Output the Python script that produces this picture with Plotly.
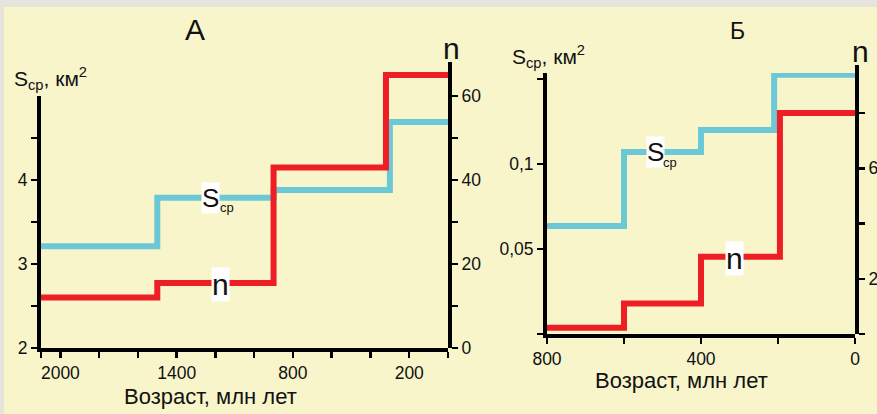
import plotly.graph_objects as go

W, H = 877, 414

# ---------------- data ----------------
# Panel A (2100 ... 0 Ma)
age_a_s = [2100, 1500, 900, 300, 0]
s_a = [3.21, 3.79, 3.88, 4.69, 4.69]
age_a_n = [2100, 1500, 900, 320, 0]
n_a = [12.0, 15.5, 43.0, 65.0, 65.0]

# Panel Б (800 ... 0 Ma)
age_b_s = [800, 600, 400, 210, 0]
s_b = [0.0635, 0.107, 0.120, 0.1525, 0.1525]
age_b_n = [800, 600, 400, 195, 0]
n_b = [2.3, 11.0, 28.0, 80.0, 80.0]

# ticks
xa_tickvals = [2100, 2000, 1800, 1600, 1400, 1200, 1000, 800, 600, 400, 200, 0]
xa_ticktext = [" ", "2000", " ", " ", "1400", " ", " ", "800", " ", " ", "200", " "]
ya_tickvals = [2, 2.5, 3, 3.5, 4, 4.5]
ya_ticktext = ["2", " ", "3", " ", "4", " "]
y2a_tickvals = [0, 10, 20, 30, 40, 50, 60]
y2a_ticktext = ["0", " ", "20", " ", "40", " ", "60"]

xb_tickvals = [800, 600, 400, 200, 0]
xb_ticktext = ["800", " ", "400", " ", "0"]
yb_tickvals = [0, 0.05, 0.1, 0.15]
yb_ticktext = [" ", "0,05", "0,1", " "]
y2b_tickvals = [0, 20, 40, 60, 80]
y2b_ticktext = [" ", "20", " ", "60", " "]

BLUE = "#6cc8d6"
RED = "#ed1f25"
YELLOW = "#f8f5cb"
GREY = "#e7e4de"
FONT = "Liberation Sans, Arial, sans-serif"
INK = "#111111"


def px(x):
    return x / W


def py(y):
    return 1 - y / H


fig = go.Figure()
fig.add_trace(go.Scatter(x=age_a_s, y=s_a, mode="lines",
                         line=dict(color=BLUE, width=6, shape="hv"),
                         xaxis="x", yaxis="y", hoverinfo="skip"))
fig.add_trace(go.Scatter(x=age_a_n, y=n_a, mode="lines",
                         line=dict(color=RED, width=6, shape="hv"),
                         xaxis="x", yaxis="y2", hoverinfo="skip"))
fig.add_trace(go.Scatter(x=age_b_s, y=s_b, mode="lines",
                         line=dict(color=BLUE, width=6, shape="hv"),
                         xaxis="x2", yaxis="y3", hoverinfo="skip"))
fig.add_trace(go.Scatter(x=age_b_n, y=n_b, mode="lines",
                         line=dict(color=RED, width=6, shape="hv"),
                         xaxis="x2", yaxis="y4", hoverinfo="skip"))

axis_common = dict(showline=True, linewidth=4, linecolor="black",
                   ticks="outside", ticklen=6, tickwidth=2.5, tickcolor="black",
                   showgrid=False, zeroline=False, automargin=False, tickangle=0,
                   tickfont=dict(family=FONT, size=17.5, color=INK))

fig.update_layout(
    width=W, height=H, autosize=False,
    margin=dict(l=0, r=0, t=0, b=0, pad=0),
    paper_bgcolor=GREY, plot_bgcolor="rgba(0,0,0,0)",
    showlegend=False,
    font=dict(family=FONT, color=INK),
    xaxis=dict(domain=[px(41), px(448)], range=[2100, 0], anchor="y",
               tickmode="array", tickvals=xa_tickvals, ticktext=xa_ticktext,
               **axis_common),
    yaxis=dict(domain=[py(348), py(96)], range=[2, 5], anchor="x", side="left",
               tickmode="array", tickvals=ya_tickvals, ticktext=ya_ticktext,
               **axis_common),
    yaxis2=dict(domain=[py(348), py(62)], range=[0, 68.1], anchor="x", side="right",
                tickmode="array", tickvals=y2a_tickvals, ticktext=y2a_ticktext,
                **axis_common),
    xaxis2=dict(domain=[px(547), px(855)], range=[800, 0], anchor="y3",
                tickmode="array", tickvals=xb_tickvals, ticktext=xb_ticktext,
                **axis_common),
    yaxis3=dict(domain=[py(334), py(73)], range=[0, 0.1535], anchor="x2", side="left",
                tickmode="array", tickvals=yb_tickvals, ticktext=yb_ticktext,
                **axis_common),
    yaxis4=dict(domain=[py(334), py(65)], range=[0, 97.4], anchor="x2", side="right",
                tickmode="array", tickvals=y2b_tickvals, ticktext=y2b_ticktext,
                **axis_common),
)

# yellow panel
fig.add_shape(type="rect", xref="paper", yref="paper",
              x0=px(4), x1=1.0, y0=0.0, y1=py(7),
              fillcolor=YELLOW, line=dict(width=0), layer="below")


def note(text, x, y, size, xref="paper", yref="paper", xanchor="center",
         yanchor="middle", bg=None, yshift=0):
    fig.add_annotation(text=text, x=x, y=y, xref=xref, yref=yref,
                       xanchor=xanchor, yanchor=yanchor, showarrow=False,
                       font=dict(family=FONT, size=size, color=INK),
                       bgcolor=bg, borderpad=0, yshift=yshift)


# panel titles
note("А", px(195), py(30), 30)
note("Б", px(737), py(31), 23)

# axis titles
note("S<sub>ср</sub>, км<sup>2</sup>", px(13), py(79), 21, xanchor="left")
note("S<sub>ср</sub>, км<sup>2</sup>", px(511), py(57), 21, xanchor="left")
note("n", px(451), py(49), 30)
note("n", px(860), py(51), 30)
note("Возраст, млн лет", px(210), py(396), 22)
note("Возраст, млн лет", px(681), py(380), 22)

# inline series labels
note("S", 1228, 3.79, 26, xref="x", yref="y", bg="white")
note("ср", 1140, 3.67, 13, xref="x", yref="y")
note("n", 1176, 15.5, 30, xref="x", yref="y2", bg="white", yshift=-2)
note("S", 519, 0.107, 26, xref="x2", yref="y3", bg="white")
note("ср", 480, 0.1006, 13, xref="x2", yref="y3")
note("n", 312, 28.0, 30, xref="x2", yref="y4", bg="white", yshift=-2)

fig.write_html("out.html",
               config={"displayModeBar": False, "staticPlot": True},
               post_script="document.body.style.margin='0';document.body.style.padding='0';")
